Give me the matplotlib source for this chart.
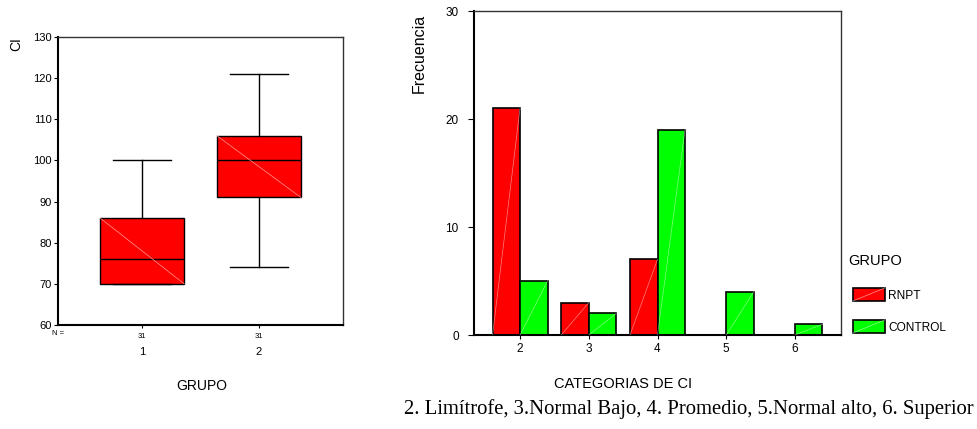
import numpy as np
import matplotlib
matplotlib.use("Agg")
import matplotlib.pyplot as plt
from matplotlib.patches import Patch, Rectangle
from matplotlib.legend_handler import HandlerPatch
import matplotlib.transforms as mtransforms

plt.rcParams['font.family'] = ['Liberation Sans', 'DejaVu Sans']

# --- boxplot data (CI por grupo)
grupos = [1, 2]
n_grupo = [31, 31]
ci_min = [70, 74]
ci_q1 = [70, 91]
ci_med = [76, 100]
ci_q3 = [86, 106]
ci_max = [100, 121]

# --- bar data (frecuencia por categoria de CI)
categorias = [2, 3, 4, 5, 6]
rnpt = [21, 3, 7, 0, 0]
control = [5, 2, 19, 4, 1]
series_names = ["RNPT", "CONTROL"]
caption = "2. Limítrofe, 3.Normal Bajo, 4. Promedio, 5.Normal alto, 6. Superior"

RED = "#ff0000"
GREEN = "#00ff00"

fig = plt.figure(figsize=(9.77, 4.29), dpi=100)
W, H = 977, 429
def px(x0, y0, x1, y1):
    return [x0 / W, 1 - y1 / H, (x1 - x0) / W, (y1 - y0) / H]

def style_spines(ax):
    for s in ["left", "bottom"]:
        ax.spines[s].set_linewidth(1.5)
        ax.spines[s].set_color("black")
    for s in ["top", "right"]:
        ax.spines[s].set_linewidth(1.0)
        ax.spines[s].set_color("#333333")

# ---------------- left: boxplot
ax1 = fig.add_axes(px(58, 37, 343, 325))
stats = [dict(med=m, q1=a, q3=b, whislo=lo, whishi=hi, fliers=[])
         for m, a, b, lo, hi in zip(ci_med, ci_q1, ci_q3, ci_min, ci_max)]
box_w = 0.72
ax1.bxp(stats, positions=grupos, widths=box_w, capwidths=0.5, patch_artist=True,
        boxprops=dict(facecolor=RED, edgecolor="black", linewidth=1.0),
        medianprops=dict(color="black", linewidth=1.0),
        whiskerprops=dict(color="black", linewidth=1.0),
        capprops=dict(color="black", linewidth=1.0))
for g, a, b in zip(grupos, ci_q1, ci_q3):
    ax1.plot([g - box_w / 2, g + box_w / 2], [b, a], color="#ff9999", lw=0.5, zorder=3)
ax1.set_xlim(0.28, 2.72)
ax1.set_ylim(60, 130)
ax1.set_yticks(np.arange(60, 131, 10))
ax1.tick_params(axis="y", labelsize=8, length=3, width=0.8, pad=1.5)
ax1.set_xticks(grupos)
ax1.set_xticklabels([str(n) for n in n_grupo], fontsize=5.5)
ax1.tick_params(axis="x", length=2.5, width=0.8, pad=3)
style_spines(ax1)
trans1 = mtransforms.blended_transform_factory(ax1.transData, ax1.transAxes)
for g in grupos:
    ax1.text(g, -0.095, str(g), transform=trans1, ha="center", va="center", fontsize=8)
ax1.text(0.0, -0.031, "N =", transform=ax1.transAxes, ha="center", va="center", fontsize=5.5)
fig.text(16 / W, 1 - 37 / H, "CI", rotation=90, ha="center", va="top", fontsize=10)
fig.text(202 / W, 1 - 386 / H, "GRUPO", ha="center", va="center", fontsize=10)

# ---------------- right: grouped bars
ax2 = fig.add_axes(px(474, 11, 841, 335))
bw = 0.4
cats = np.array(categorias)
b1 = ax2.bar(cats - bw / 2, rnpt, width=bw, color=RED, edgecolor="black", linewidth=1.2)
b2 = ax2.bar(cats + bw / 2, control, width=bw, color=GREEN, edgecolor="black", linewidth=1.2)
for bars in (b1, b2):
    for r in bars:
        if r.get_height() > 0:
            ax2.plot([r.get_x(), r.get_x() + r.get_width()], [0, r.get_height()],
                     color="white", lw=0.5, alpha=0.5, zorder=3)
ax2.set_xlim(1.33, 6.67)
ax2.set_ylim(0, 30)
ax2.set_yticks([0, 10, 20, 30])
ax2.set_xticks(categorias)
ax2.tick_params(axis="y", labelsize=8.5, length=4, width=0.8, pad=7)
ax2.tick_params(axis="x", labelsize=8.5, length=3, width=0.8, pad=3)
style_spines(ax2)
fig.text(419 / W, 1 - 14 / H, "Frecuencia", rotation=90, ha="center", va="top", fontsize=11.5)
fig.text(623 / W, 1 - 384 / H, "CATEGORIAS DE CI", ha="center", va="center", fontsize=10.5)


class DiagPatch(HandlerPatch):
    def create_artists(self, legend, orig_handle, xdescent, ydescent, width, height, fontsize, trans):
        r = Rectangle((-xdescent, -ydescent), width, height,
                      facecolor=orig_handle.get_facecolor(), edgecolor="black", lw=1.2, transform=trans)
        ln = plt.Line2D([-xdescent, -xdescent + width], [-ydescent, -ydescent + height],
                        color="white", lw=0.5, alpha=0.6, transform=trans)
        return [r, ln]


fig.text(848 / W, 1 - 261 / H, "GRUPO", ha="left", va="center", fontsize=10.5)
handles = [Patch(facecolor=RED), Patch(facecolor=GREEN)]
leg = fig.legend(handles, series_names, loc="upper left",
                 bbox_to_anchor=(853 / W, 1 - 288 / H), frameon=False, fontsize=8.6,
                 handlelength=2.65, handleheight=1.3,
                 handletextpad=0.3, labelspacing=1.55, borderpad=0, borderaxespad=0,
                 handler_map={Patch: DiagPatch()})

fig.text(974 / W, 1 - 409 / H, caption, ha="right", va="center", fontsize=14.9,
         family=["Liberation Serif", "DejaVu Serif"])

fig.savefig("out.png", dpi=100)
